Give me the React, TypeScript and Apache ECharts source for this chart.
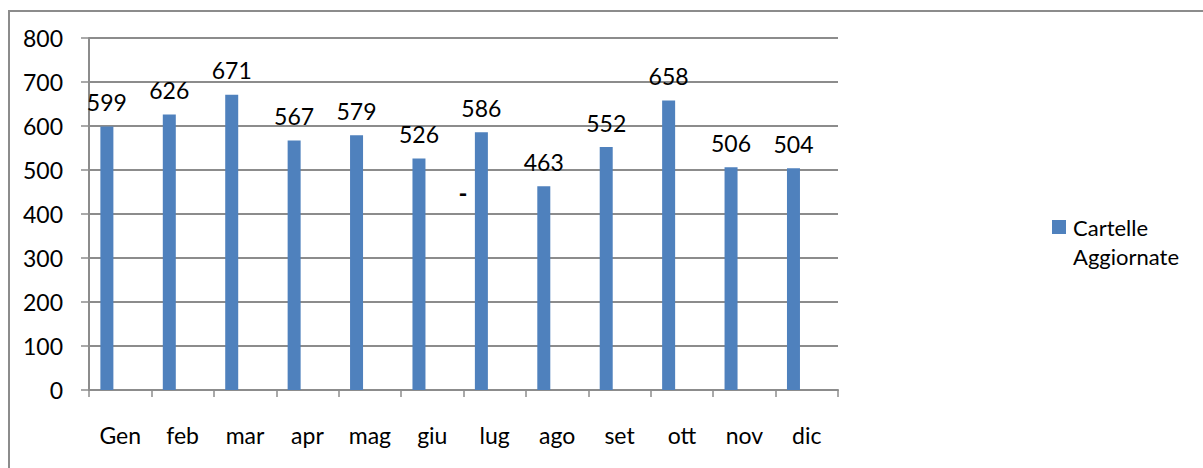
import React, { useEffect, useRef } from "react";
import * as echarts from "echarts";

const months = ["Gen", "feb", "mar", "apr", "mag", "giu", "lug", "ago", "set", "ott", "nov", "dic"];
const cartelleAggiornate = [599, 626, 671, 567, 579, 526, 586, 463, 552, 658, 506, 504];
const emptySeries = [null, null, null, null, null, null, null, null, null, null, null, null];
const seriesName = "Cartelle Aggiornate";
const legendLines = ["Cartelle", "Aggiornate"];

const FONT = "Lato, 'Noto Sans', sans-serif";
const GRAY = "#8c8c8c";
const BLUE = "#4F81BD";

export default function App() {
  const ref = useRef<HTMLDivElement>(null);
  useEffect(() => {
    if (!ref.current) return;
    const chart = echarts.init(ref.current, null, { renderer: "svg" });
    chart.setOption({
      animation: false,
      backgroundColor: "#ffffff",
      textStyle: { fontFamily: FONT },
      grid: { left: 89, top: 38, width: 749, height: 352, containLabel: false },
      legend: { show: false, data: [seriesName] },
      xAxis: {
        type: "category",
        data: months,
        boundaryGap: true,
        axisLine: { show: true, lineStyle: { color: GRAY, width: 2 } },
        axisTick: { show: true, alignWithLabel: false, length: 7, lineStyle: { color: GRAY, width: 1.5 } },
        axisLabel: { color: "#000", fontSize: 23, fontFamily: FONT, margin: 33, lineHeight: 23 },
        splitLine: { show: false },
      },
      yAxis: {
        type: "value",
        min: 0,
        max: 800,
        interval: 100,
        axisLine: { show: true, lineStyle: { color: GRAY, width: 2 } },
        axisTick: { show: true, length: 8, lineStyle: { color: GRAY, width: 1.5 } },
        axisLabel: { color: "#000", fontSize: 23, fontFamily: FONT, margin: 26 },
        splitLine: { show: true, lineStyle: { color: GRAY, width: 2 } },
      },
      series: [
        {
          name: seriesName,
          type: "bar",
          data: cartelleAggiornate,
          barWidth: 13,
          barGap: "105%",
          itemStyle: { color: BLUE },
          label: {
            show: true,
            position: "top",
            distance: 13,
            color: "#000",
            fontSize: 23,
            fontFamily: FONT,
          },
        },
        {
          name: "empty",
          type: "bar",
          data: emptySeries,
          barWidth: 13,
          itemStyle: { color: "#C0504D" },
        },
      ],
      graphic: [
        {
          type: "rect",
          shape: { x: 9, y: 11, width: 1250, height: 520 },
          style: { fill: "none", stroke: GRAY, lineWidth: 2 },
          silent: true,
        },
        {
          type: "text",
          x: 463,
          y: 192,
          style: {
            text: "-",
            font: "bold 24px " + FONT,
            fill: "#000",
            align: "center",
            verticalAlign: "middle",
          },
          silent: true,
        },
        {
          type: "rect",
          shape: { x: 1052, y: 220, width: 14, height: 14 },
          style: { fill: BLUE },
          silent: true,
        },
        {
          type: "text",
          x: 1073,
          y: 213,
          style: {
            text: legendLines.join("\n"),
            font: "22px " + FONT,
            lineHeight: 29,
            fill: "#000",
            align: "left",
            verticalAlign: "top",
          },
          silent: true,
        },
      ],
    });
    return () => chart.dispose();
  }, []);
  return (
    <div
      ref={ref}
      style={{ position: "fixed", left: 0, top: 0, width: 1203, height: 468 }}
    />
  );
}
